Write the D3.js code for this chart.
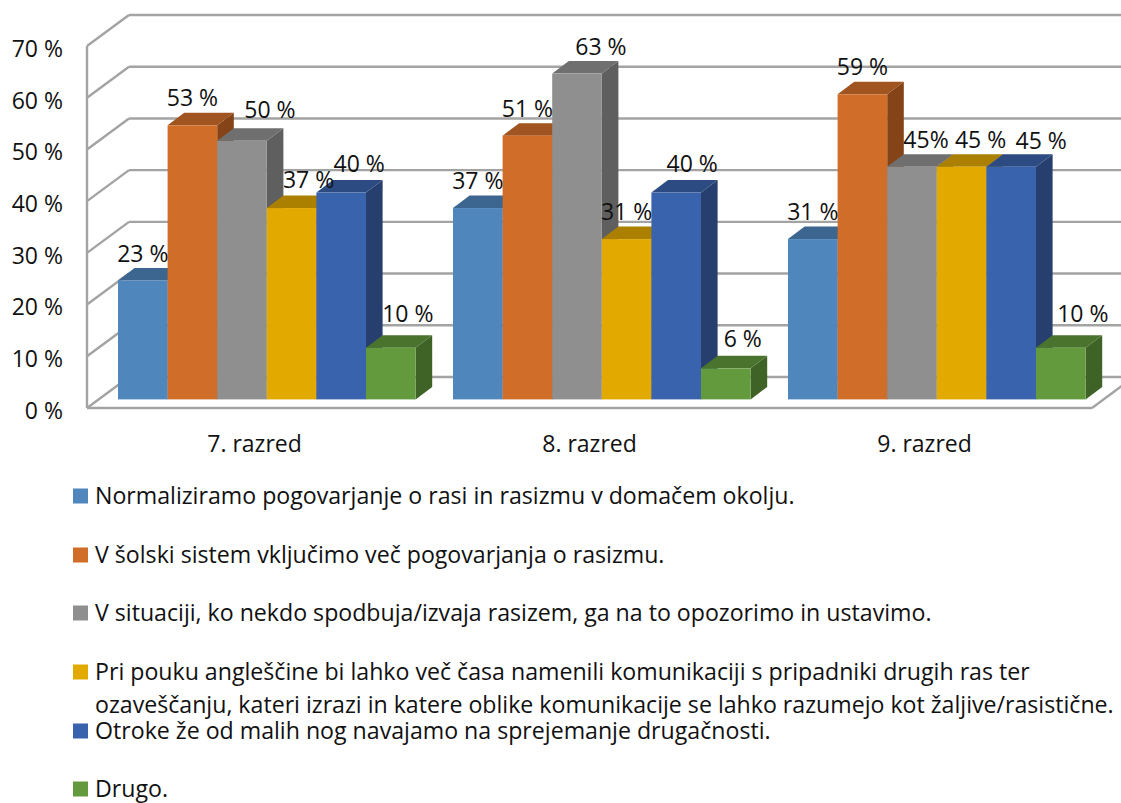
<!DOCTYPE html>
<html><head><meta charset="utf-8">
<script src="https://cdn.jsdelivr.net/npm/d3@7/dist/d3.min.js"></script>
<style>
html,body{margin:0;padding:0;background:#fff}
svg{display:block}
text{font-family:"Open Sans",sans-serif;fill:#111}
</style></head><body>
<svg id="c" width="1121" height="803"></svg>
<script>
const categories = ["7. razred","8. razred","9. razred"];
const seriesNames = [
  "Normaliziramo pogovarjanje o rasi in rasizmu v domačem okolju.",
  "V šolski sistem vključimo več pogovarjanja o rasizmu.",
  "V situaciji, ko nekdo spodbuja/izvaja rasizem, ga na to opozorimo in ustavimo.",
  "Pri pouku angleščine bi lahko več časa namenili komunikaciji s pripadniki drugih ras ter\nozaveščanju, kateri izrazi in katere oblike komunikacije se lahko razumejo kot žaljive/rasistične.",
  "Otroke že od malih nog navajamo na sprejemanje drugačnosti.",
  "Drugo."
];
const s1 = [23,37,31];
const s2 = [53,51,59];
const s3 = [50,63,45];
const s4 = [37,31,45];
const s5 = [40,40,45];
const s6 = [10,6,10];
const seriesValues = [s1,s2,s3,s4,s5,s6];
const tickValues = [0,10,20,30,40,50,60,70];
const frontColors = ["#4f87bd","#d06d29","#8f8f8f","#e2a900","#3a63ad","#629a3d"];
const topColors   = ["#3c6690","#a0541f","#6f6f6f","#ab8000","#2d4b83","#4a732e"];
const sideColors  = ["#335a80","#854417","#5f5f5f","#8f6b00","#263f6e","#3f6227"];
// label tweaks [dx,dy] per series, per category, as placed in the original
const labelNudges = [
  [[0,0],[0,0],[0,0]],
  [[0,0],[0,0],[0,0]],
  [[28,-4],[24,0],[14,0]],
  [[17,-1],[0,0],[19,0]],
  [[18,-2],[16,-2],[30,1]],
  [[17,-7],[17,-2],[22,-7]]
];
const labelGlue = {"2-2":"45%"};

const W=1121,H=803;
const svg=d3.select("#c");
const x0=d3.scaleBand().domain(categories).range([87,1092]);
const y=d3.scaleLinear().domain([0,70]).range([408,46]);
const wall={dx:42,dy:-31};
const plane={dx:31,dy:-8.6};
const depth={dx:16.6,dy:-12.5};
const barW=49.6;
const barX=(c,s)=>x0(categories[c])+plane.dx+s*barW;

const grid=svg.append("g").attr("stroke","#a3a3a3").attr("stroke-width",2.4).attr("fill","none");
tickValues.forEach(t=>{
  grid.append("line").attr("x1",87).attr("y1",y(t)).attr("x2",87+wall.dx).attr("y2",y(t)+wall.dy);
  grid.append("line").attr("x1",87+wall.dx).attr("y1",y(t)+wall.dy).attr("x2",W).attr("y2",y(t)+wall.dy);
});
grid.append("line").attr("x1",87).attr("y1",y(70)).attr("x2",87).attr("y2",y(0));
grid.append("line").attr("x1",87).attr("y1",y(0)).attr("x2",1092).attr("y2",y(0));
grid.append("line").attr("x1",1092).attr("y1",y(0)).attr("x2",1092+wall.dx).attr("y2",y(0)+wall.dy);

const bars=svg.append("g");
categories.forEach((cat,c)=>{
  seriesValues.forEach((vals,s)=>{
    const xL=barX(c,s),xR=xL+barW,yT=y(vals[c])+plane.dy,yB=y(0)+plane.dy;
    const g=bars.append("g");
    const poly=(pts,col)=>g.append("polygon").attr("points",pts.map(p=>p.join(",")).join(" ")).attr("fill",col);
    poly([[xR,yT],[xR+depth.dx,yT+depth.dy],[xR+depth.dx,yB+depth.dy],[xR,yB]],sideColors[s]);
    poly([[xL,yT],[xL+depth.dx,yT+depth.dy],[xR+depth.dx,yT+depth.dy],[xR,yT]],topColors[s]);
    g.append("rect").attr("x",xL).attr("y",yT).attr("width",barW).attr("height",yB-yT).attr("fill",frontColors[s]);
  });
});

const lab=svg.append("g").attr("font-size",23).attr("text-anchor","middle");
categories.forEach((cat,c)=>{
  seriesValues.forEach((vals,s)=>{
    const n=labelNudges[s][c];
    lab.append("text")
      .attr("x",barX(c,s)+barW/2+n[0])
      .attr("y",y(vals[c])+plane.dy-27+n[1])
      .attr("dy","0.35em")
      .text(labelGlue[s+"-"+c]||(vals[c]+" %"));
  });
});

const yAxis=d3.axisLeft(y).tickValues(tickValues).tickSize(0).tickPadding(0).tickFormat(d=>d+" %");
const ya=svg.append("g").attr("transform","translate(63,3)").call(yAxis);
ya.select(".domain").remove();
ya.attr("font-family",null);
ya.selectAll("text").attr("font-size",23);
const xAxis=d3.axisBottom(x0).tickSize(0).tickPadding(0);
const xa=svg.append("g").attr("transform","translate(0,436)").call(xAxis);
xa.select(".domain").remove();
xa.attr("font-family",null);
xa.selectAll("text").attr("font-size",23);

const legendY=[496,555,613,672,731,789];
const leg=svg.append("g").attr("font-size",23.15);
seriesNames.forEach((nm,i)=>{
  leg.append("rect").attr("x",73).attr("y",legendY[i]-7.5).attr("width",15).attr("height",15).attr("fill",frontColors[i]);
  nm.split("\n").forEach((ln,k)=>{
    leg.append("text").attr("x",95).attr("y",legendY[i]+k*33).attr("dy","0.35em").text(ln);
  });
});
</script>
</body></html>
